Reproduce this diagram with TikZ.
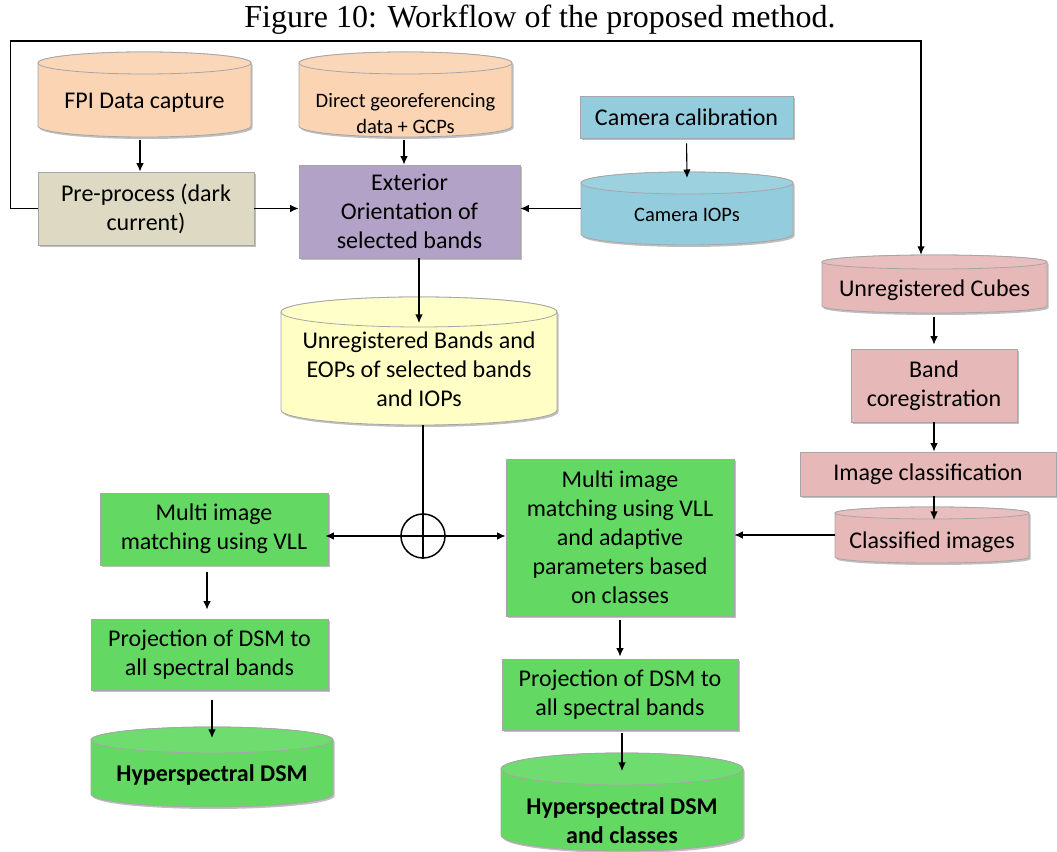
\documentclass[tikz,border=0pt]{standalone}
\usepackage{fontspec}
\setmainfont{Carlito}
\newfontfamily\titlefont{Liberation Serif}
\usetikzlibrary{arrows.meta,shadows}
\definecolor{cpeach}{HTML}{FBD4B4}
\definecolor{cbeige}{HTML}{DDD9C3}
\definecolor{clav}{HTML}{B3A2C7}
\definecolor{cblue}{HTML}{93CDDD}
\definecolor{cyellow}{HTML}{FFFFC5}
\definecolor{cpink}{HTML}{E6B9B8}
\definecolor{cgreen}{HTML}{63D963}
\definecolor{edgegray}{HTML}{A6A6A6}
\tikzset{
  boxshadow/.style={drop shadow={shadow xshift=1.5pt,shadow yshift=-2pt,opacity=0.25,fill=black}},
  procbox/.style={rectangle,draw=edgegray,line width=0.8pt,boxshadow,inner sep=0pt,align=center,
    font=\fontsize{24}{29}\selectfont},
  cyltext/.style={inner sep=0pt,align=center,font=\fontsize{24}{29}\selectfont},
  smalltext/.style={inner sep=0pt,align=center,font=\fontsize{20.5}{26}\selectfont},
  boldtext/.style={inner sep=0pt,align=center,font=\fontsize{24}{29}\selectfont\bfseries},
  arr/.style={line width=1.1pt,-{Latex[length=8.5pt,width=7.5pt]}},
  ln/.style={line width=1.1pt}
}
% name, cx, cy, w, h, ry, colour
\newcommand\mycyl[7]{%
  \pgfmathsetmacro\cylrx{#4/2}%
  \path[fill=#7,draw=edgegray,line width=0.8pt,boxshadow]
    ({#2-#4/2},{#3+#5/2-#6}) -- ({#2-#4/2},{#3-#5/2+#6})
    arc[start angle=180,end angle=360,x radius=\cylrx pt,y radius=#6pt]
    -- ({#2+#4/2},{#3+#5/2-#6})
    arc[start angle=0,end angle=180,x radius=\cylrx pt,y radius=#6pt] -- cycle;
  \draw[fill=#7!92!white,draw=edgegray,line width=0.8pt] (#2,{#3+#5/2-#6}) ellipse[x radius=\cylrx pt,y radius=#6pt];
  \node[inner sep=0pt,minimum width=#4pt,minimum height=#5pt] (#1) at (#2,#3) {};
  \coordinate (#1-top) at (#2,{#3+#5/2-#6});
}
\begin{document}
\begin{tikzpicture}[x=1pt,y=1pt]
\useasboundingbox (0,0) rectangle (1057,851);

\node[inner sep=0pt] (title) at (540,831) {\titlefont\fontsize{32}{38}\selectfont Figure 10: Workflow of the proposed method.};

% cylinders
\mycyl{fpi}{144.5}{756.5}{213}{85}{11}{cpeach}
\node[cyltext] (fpit) at (144.5,748) {FPI Data capture};
\mycyl{dir}{405.5}{756.5}{213}{85}{11}{cpeach}
\node[smalltext] (dirt) at (405.5,737) {Direct georeferencing\\data + GCPs};
\mycyl{iops}{687}{642.5}{212}{73}{11}{cblue}
\node[smalltext] (iopst) at (687,636) {Camera IOPs};
\mycyl{bands}{419}{490}{276}{128}{15}{cyellow}
\node[cyltext] (bandst) at (419,482) {Unregistered Bands and\\EOPs of selected bands\\and IOPs};
\mycyl{hl}{212}{84}{242}{80}{13}{cgreen}
\node[boldtext] (hlt) at (212,76) {Hyperspectral DSM};
\mycyl{hr}{622}{49}{242}{98}{16}{cgreen}
\node[boldtext] (hrt) at (622,30) {Hyperspectral DSM\\and classes};
\mycyl{cubes}{934.5}{567}{225}{58}{7}{cpink}
\node[cyltext] (cubest) at (934.5,561) {Unregistered Cubes};
\mycyl{cimg}{932}{316}{194}{56}{6}{cpink}
\node[cyltext] (cimgt) at (932,309) {Classified images};

% boxes
\node[procbox,fill=cbeige,minimum width=216pt,minimum height=73pt] (pre) at (146,642.5) {Pre-process (dark\\current)};
\node[procbox,fill=clav,minimum width=221pt,minimum height=93pt] (ext) at (409.5,639.5) {Exterior\\Orientation of\\selected bands};
\node[procbox,fill=cblue,minimum width=213pt,minimum height=42pt] (cal) at (686.5,734) {Camera calibration};
\node[procbox,fill=cgreen,minimum width=228pt,minimum height=72pt] (ml) at (214,322) {Multi image\\matching using VLL};
\node[procbox,fill=cgreen,minimum width=237pt,minimum height=71pt] (pl) at (209.5,196.5) {Projection of DSM to\\all spectral bands};
\node[procbox,fill=cgreen,minimum width=228pt,minimum height=157pt] (mr) at (620,313.5) {Multi image\\matching using VLL\\and adaptive\\parameters based\\on classes};
\node[procbox,fill=cgreen,minimum width=236pt,minimum height=71pt] (pr) at (620,156.5) {Projection of DSM to\\all spectral bands};
\node[procbox,fill=cpink,minimum width=166pt,minimum height=73pt] (band) at (934,465.5) {Band\\coregistration};
\node[procbox,fill=cpink,minimum width=256pt,minimum height=44pt] (cls) at (928,377) {Image classification};

% sum
\node[circle,draw,line width=1.5pt,minimum size=44pt,inner sep=0pt] (sum) at (423,315) {};
\coordinate (fb) at (921,810);

% connectors
\draw[arr,shorten <=3pt] ([xshift=-4.5pt]fpi.south) -- ([xshift=-4.5pt]fpi.south |- pre.north);
\draw[arr,shorten <=3pt] ([xshift=-1.5pt]dir.south) -- ([xshift=-1.5pt]dir.south |- ext.north);
\draw[arr] (pre.east) -- (ext.west |- pre.east);
\draw[arr] (iops.west) -- (ext.east |- iops.west);
\draw[arr,shorten <=5pt] (cal.south) -- ([yshift=5pt]iops-top);
\draw[arr] (ext.south -| bands-top) -- ([yshift=-11pt]bands-top);
\draw[line width=1.5pt] (bands.south -| sum.north) -- (sum.south);
\draw[line width=1.5pt] (sum.west) -- (sum.east);
\draw[arr,shorten >=-3pt] (sum.west) -- (ml.east |- sum.west);
\draw[arr] (sum.east) -- (mr.west |- sum.east);
\draw[arr,shorten <=7pt,shorten >=9pt] ([xshift=-7pt]ml.south) -- ([xshift=-7pt]ml.south |- pl.north);
\draw[arr,shorten <=10pt] (pl.south -| hl-top) -- ([yshift=2pt]hl-top);
\draw[arr,shorten <=4pt,shorten >=2pt] (mr.south) -- (pr.north);
\draw[arr,shorten <=3pt] (pr.south -| hr-top) -- ([yshift=-2pt]hr-top);
\draw[arr] (cimg.west) -- (mr.east |- cimg.west);
\draw[arr,shorten <=4pt,shorten >=4pt] (cubes.south -| band.north) -- (band.north);
\draw[arr] (band.south) -- (band.south |- cls.north);
\draw[arr] (band.south |- cls.south) -- ([yshift=-7pt]band.south |- cimg-top);
\draw[arr] (pre.west) -- ++(-27,0) |- (fb) -- (fb |- cubes.north);
\end{tikzpicture}
\end{document}
